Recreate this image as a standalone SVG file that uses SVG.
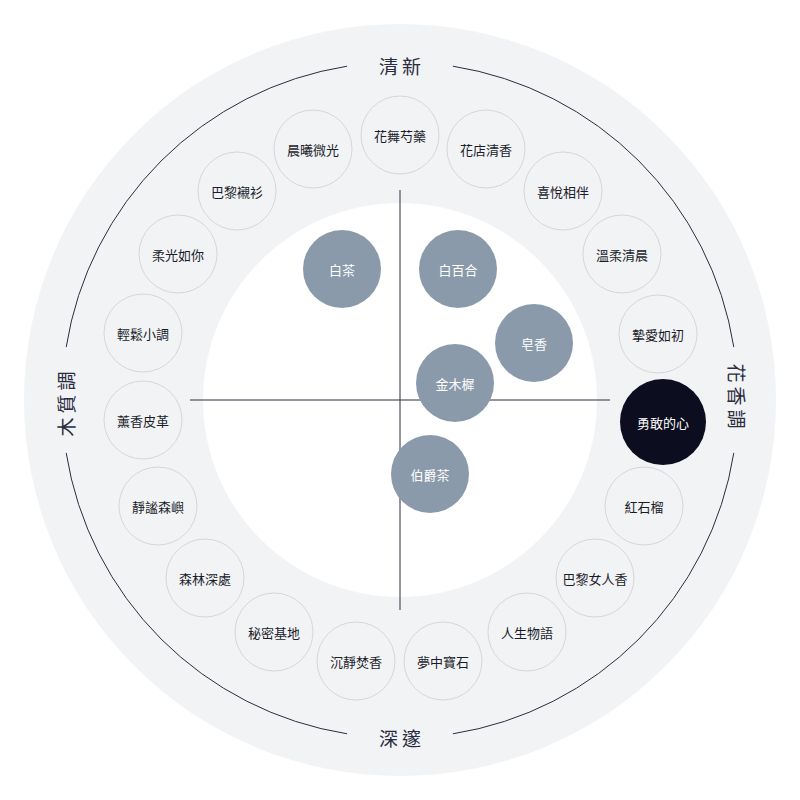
<svg xmlns="http://www.w3.org/2000/svg" width="800" height="800" viewBox="0 0 800 800">
<style>
.n{fill:#f2f3f5;stroke:#d4d6da;stroke-width:1}
.t{font-family:"Noto Sans CJK TC","Noto Sans CJK SC",sans-serif;font-size:13px;fill:#1a1c2a;text-anchor:middle;dominant-baseline:central}
.f{fill:#8a9aab}
.w{fill:#ffffff}
.lb{font-family:"Noto Sans CJK TC","Noto Sans CJK SC",sans-serif;font-size:19px;fill:#2a2d40;text-anchor:middle;dominant-baseline:central;letter-spacing:4px}
.ln{stroke:#2a2d40;stroke-width:1;fill:none}
</style>
<rect width="800" height="800" fill="#ffffff"/>
<circle cx="400" cy="400" r="376" fill="#f2f3f5"/>
<circle cx="400" cy="400" r="197" fill="#ffffff"/>
<g id="connectors">
<path class="ln" d="M452.9,66.2 A338,338 0 0 1 733.8,347.1"/>
<path class="ln" d="M733.8,452.9 A338,338 0 0 1 452.9,733.8"/>
<path class="ln" d="M347.1,733.8 A338,338 0 0 1 66.2,452.9"/>
<path class="ln" d="M66.2,347.1 A338,338 0 0 1 347.1,66.2"/>
<line class="ln" x1="400" y1="190" x2="400" y2="610"/>
<line class="ln" x1="190" y1="400" x2="610" y2="400"/>
</g>
<text class="lb" x="402" y="65">清新</text>
<text class="lb" x="402" y="737">深邃</text>
<text class="lb" transform="translate(65,402) rotate(-90)">木質調</text>
<text class="lb" transform="translate(737,398) rotate(90)">花香調</text>
<g id="n1"><circle class="n" cx="400" cy="135" r="39"/><text class="t" x="400" y="135">花舞芍藥</text></g>
<g id="n2"><circle class="n" cx="486" cy="149" r="39"/><text class="t" x="486" y="149">花店清香</text></g>
<g id="n3"><circle class="n" cx="563" cy="191" r="39"/><text class="t" x="563" y="191">喜悅相伴</text></g>
<g id="n4"><circle class="n" cx="622" cy="254" r="39"/><text class="t" x="622" y="254">溫柔清晨</text></g>
<g id="n5"><circle class="n" cx="658" cy="334" r="39"/><text class="t" x="658" y="334">摯愛如初</text></g>
<g id="n6"><circle cx="663" cy="422" r="43" fill="#0c0d1e"/><text class="t" x="663" y="422" style="fill:#ffffff">勇敢的心</text></g>
<g id="n7"><circle class="n" cx="644" cy="506" r="39"/><text class="t" x="644" y="506">紅石榴</text></g>
<g id="n8"><circle class="n" cx="595" cy="578" r="39"/><text class="t" x="595" y="578">巴黎女人香</text></g>
<g id="n9"><circle class="n" cx="527" cy="632" r="39"/><text class="t" x="527" y="632">人生物語</text></g>
<g id="n10"><circle class="n" cx="443" cy="661" r="39"/><text class="t" x="443" y="661">夢中寶石</text></g>
<g id="n11"><circle class="n" cx="356" cy="661" r="39"/><text class="t" x="356" y="661">沉靜焚香</text></g>
<g id="n12"><circle class="n" cx="274" cy="632" r="39"/><text class="t" x="274" y="632">秘密基地</text></g>
<g id="n13"><circle class="n" cx="205" cy="578" r="39"/><text class="t" x="205" y="578">森林深處</text></g>
<g id="n14"><circle class="n" cx="158" cy="506" r="39"/><text class="t" x="158" y="506">靜謐森嶼</text></g>
<g id="n15"><circle class="n" cx="143" cy="420" r="39"/><text class="t" x="143" y="420">薰香皮革</text></g>
<g id="n16"><circle class="n" cx="143" cy="333" r="39"/><text class="t" x="143" y="333">輕鬆小調</text></g>
<g id="n17"><circle class="n" cx="178" cy="254" r="39"/><text class="t" x="178" y="254">柔光如你</text></g>
<g id="n18"><circle class="n" cx="237" cy="191" r="39"/><text class="t" x="237" y="191">巴黎襯衫</text></g>
<g id="n19"><circle class="n" cx="313" cy="149" r="39"/><text class="t" x="313" y="149">晨曦微光</text></g>
<g id="i1"><circle class="f" cx="342" cy="269" r="39"/><text class="t" x="342" y="269" style="fill:#fff">白茶</text></g>
<g id="i2"><circle class="f" cx="458" cy="269" r="39"/><text class="t" x="458" y="269" style="fill:#fff">白百合</text></g>
<g id="i3"><circle class="f" cx="534" cy="343" r="39"/><text class="t" x="534" y="343" style="fill:#fff">皂香</text></g>
<g id="i4"><circle class="f" cx="455" cy="383" r="39"/><text class="t" x="455" y="383" style="fill:#fff">金木樨</text></g>
<g id="i5"><circle class="f" cx="430" cy="474" r="39"/><text class="t" x="430" y="474" style="fill:#fff">伯爵茶</text></g>
</svg>
